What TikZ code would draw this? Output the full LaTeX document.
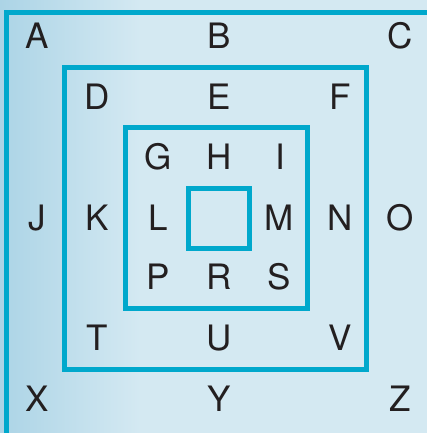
\documentclass[tikz,border=0pt]{standalone}
\usepackage{fontspec}
\setmainfont{TeX Gyre Heros}
\definecolor{frame}{RGB}{0,168,204}
\definecolor{bgl}{RGB}{212,233,242}
\definecolor{bgd}{RGB}{172,212,230}
\definecolor{ink}{RGB}{35,31,32}
\begin{document}
\begin{tikzpicture}[x=1pt,y=-1pt,
  lbl/.style={inner sep=0pt,text=ink,font=\fontsize{35}{40}\selectfont},
  frm/.style={draw=frame,line width=5pt}]
\useasboundingbox (0,0) rectangle (427,433);
\clip (0,0) rectangle (427,433);
\fill[bgl] (0,0) rectangle (427,433);
\shade[left color=bgd,right color=bgl,shading angle=90] (0,0) rectangle (140,433);
% frames
\draw[frm] (6.5,445) -- (6.5,12.5) -- (445,12.5);
\draw[frm] (64.5,67.5) rectangle (366,369);
\draw[frm] (125,127.5) rectangle (307,308);
\draw[frm] (188.5,188.5) rectangle (249,248.5);
% letters
\node[lbl] (A) at (37,36) {A};
\node[lbl] (B) at (219,36) {B};
\node[lbl] (C) at (400,36) {C};
\node[lbl] (D) at (97.5,97) {D};
\node[lbl] (E) at (219,97) {E};
\node[lbl] (F) at (340,97) {F};
\node[lbl] (G) at (158,157) {G};
\node[lbl] (H) at (219,157) {H};
\node[lbl] (I) at (280,157) {I};
\node[lbl] (J) at (37,218) {J};
\node[lbl] (K) at (97.5,218) {K};
\node[lbl] (L) at (158,218) {L};
\node[lbl] (M) at (279.5,218) {M};
\node[lbl] (N) at (340,218) {N};
\node[lbl] (O) at (400,218) {O};
\node[lbl] (P) at (158,277) {P};
\node[lbl] (R) at (219,277) {R};
\node[lbl] (S) at (279.5,277) {S};
\node[lbl] (T) at (97.5,338) {T};
\node[lbl] (U) at (219,338) {U};
\node[lbl] (V) at (340,338) {V};
\node[lbl] (X) at (37.5,399) {X};
\node[lbl] (Y) at (219,399) {Y};
\node[lbl] (Z) at (400.5,399) {Z};
\end{tikzpicture}
\end{document}
